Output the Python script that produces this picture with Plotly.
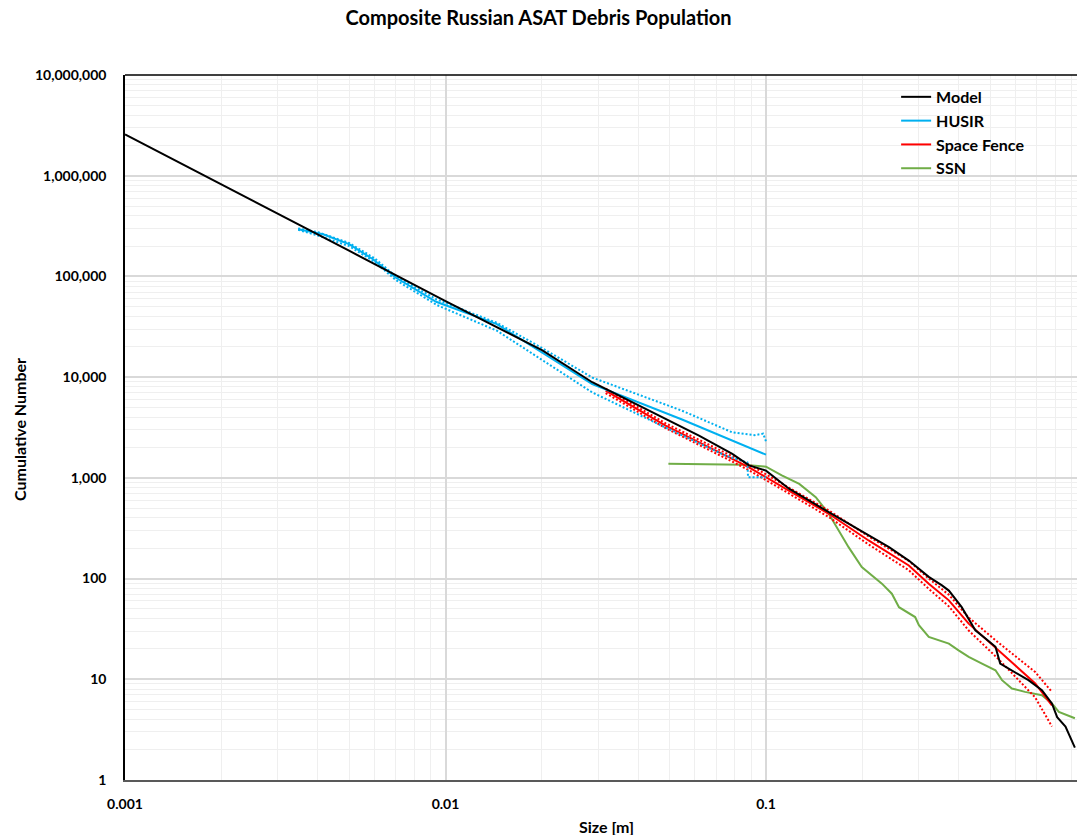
import numpy as np
import plotly.graph_objects as go

# ---- Model (cumulative number vs size) ----
model_size = [0.001, 0.002, 0.0035, 0.005, 0.01, 0.02, 0.0287, 0.04, 0.0618, 0.0785,
              0.0885, 0.1, 0.118, 0.157, 0.209, 0.242, 0.279, 0.322, 0.354, 0.372,
              0.408, 0.45, 0.484, 0.52, 0.538, 0.585, 0.659, 0.726, 0.78, 0.81, 0.86, 0.92]
model_count = [2.57e6, 8.2e5, 3.3e5, 1.8e5, 5.7e4, 1.85e4, 8900, 5200, 2620, 1730,
               1330, 1180, 780, 456, 268, 205, 151, 104, 85.6, 76,
               52, 30.7, 25.4, 21, 14.3, 12.3, 9.8, 7.8, 5.75, 4.2, 3.4, 2.1]

# ---- HUSIR: estimate with upper / lower bounds ----
husir_size = [0.00347, 0.00415, 0.00502, 0.00594, 0.00701, 0.00935, 0.01446, 0.0287,
              0.0547, 0.1]
husir_count = [2.94e5, 2.62e5, 2.08e5, 1.48e5, 9.7e4, 5.6e4, 3.36e4, 8520, 3800, 1700]

husir_hi_size = [0.00347, 0.004, 0.005, 0.006, 0.007, 0.0094, 0.0145, 0.02, 0.0287,
                 0.04, 0.0547, 0.0785, 0.092, 0.098, 0.1]
husir_hi_count = [3.0e5, 2.75e5, 2.15e5, 1.52e5, 1.0e5, 5.9e4, 3.45e4, 1.95e4, 9900,
                  6700, 4645, 2830, 2650, 2750, 2300]

husir_lo_size = [0.00347, 0.004, 0.005, 0.006, 0.007, 0.0094, 0.0145, 0.0287, 0.0485,
                 0.0748, 0.0875, 0.0879, 0.1]
husir_lo_count = [2.9e5, 2.55e5, 2.0e5, 1.4e5, 9.2e4, 5.2e4, 2.88e4, 7050, 3170,
                  1663, 1420, 1014, 1014]

# ---- Space Fence: estimate with upper / lower bounds ----
sf_size = [0.0316, 0.0486, 0.0785, 0.0885, 0.1178, 0.157, 0.209, 0.279, 0.322, 0.372,
           0.429, 0.532, 0.692, 0.78]
sf_count = [7330, 3300, 1542, 1274, 748, 440, 239, 135, 89, 60.8,
            35.7, 19.4, 9.1, 5.5]
sf_hi_count = [7700, 3480, 1640, 1360, 800, 475, 262, 150, 100, 69,
               41, 23, 11.8, 7.5]
sf_lo_count = [6950, 3120, 1450, 1190, 700, 408, 218, 121, 79, 53,
               30.5, 15.8, 6.6, 3.4]

# ---- SSN catalog ----
ssn_size = [0.0496, 0.07, 0.085, 0.1, 0.112, 0.127, 0.143, 0.157, 0.169, 0.181,
            0.199, 0.23, 0.247, 0.26, 0.292, 0.3, 0.322, 0.347, 0.372, 0.399,
            0.429, 0.472, 0.52, 0.545, 0.585, 0.643, 0.726, 0.78, 0.82, 0.92]
ssn_count = [1380, 1375, 1350, 1290, 1060, 872, 643, 440, 300, 205,
             130, 89, 70.8, 52, 41.5, 34.4, 26.3, 24.4, 22.6, 19.4,
             16.7, 14.3, 12.3, 9.8, 8.1, 7.5, 6.95, 5.75, 4.75, 4.1]

x_tick_vals = [0.001, 0.01, 0.1]
x_tick_text = ["0.001", "0.01", "0.1"]
y_tick_vals = [1, 10, 100, 1000, 10000, 100000, 1000000, 10000000]
y_tick_text = ["1", "10", "100", "1,000", "10,000", "100,000", "1,000,000", "10,000,000"]

BLACK = "#000000"
BLUE = "#00B0F0"
RED = "#FF0000"
GREEN = "#70AD47"
FONT = "Lato"
DOT = "2px,2px"

fig = go.Figure()

# SSN
fig.add_trace(go.Scatter(x=ssn_size, y=ssn_count, mode="lines", name="<b>SSN</b>",
                         line=dict(color=GREEN, width=2), legendrank=4))

# Space Fence bounds and estimate
fig.add_trace(go.Scatter(x=sf_size, y=sf_hi_count, mode="lines", showlegend=False,
                         line=dict(color=RED, width=2, dash=DOT)))
fig.add_trace(go.Scatter(x=sf_size, y=sf_lo_count, mode="lines", showlegend=False,
                         line=dict(color=RED, width=2, dash=DOT)))
fig.add_trace(go.Scatter(x=sf_size, y=sf_count, mode="lines", name="<b>Space Fence</b>",
                         line=dict(color=RED, width=2), legendrank=3))

# HUSIR bounds and estimate
fig.add_trace(go.Scatter(x=husir_hi_size, y=husir_hi_count, mode="lines", showlegend=False,
                         line=dict(color=BLUE, width=2, dash=DOT)))
fig.add_trace(go.Scatter(x=husir_lo_size, y=husir_lo_count, mode="lines", showlegend=False,
                         line=dict(color=BLUE, width=2, dash=DOT)))
fig.add_trace(go.Scatter(x=husir_size, y=husir_count, mode="lines", name="<b>HUSIR</b>",
                         line=dict(color=BLUE, width=2), legendrank=2))

# Model
fig.add_trace(go.Scatter(x=model_size, y=model_count, mode="lines", name="<b>Model</b>",
                         line=dict(color=BLACK, width=2), legendrank=1))

# minor gridlines at 2..9 of every decade
x_minor = [m * 10.0 ** e for e in range(-3, 0) for m in range(2, 10)]
y_minor = [m * 10.0 ** e for e in range(0, 7) for m in range(2, 10)]

fig.update_xaxes(
    type="log",
    range=[-3, -0.0296],
    tickvals=x_tick_vals,
    ticktext=x_tick_text,
    ticks="",
    ticklabelstandoff=10,
    tickfont=dict(family=FONT, size=14, color="#000000", weight="bold"),
    showgrid=True,
    gridcolor="#D9D9D9",
    gridwidth=1.5,
    minor=dict(tickvals=x_minor, showgrid=True, gridcolor="#EFEFEF", gridwidth=1, ticks=""),
    showline=True,
    linecolor="#595959",
    linewidth=2,
    zeroline=False,
)
fig.update_yaxes(
    type="log",
    range=[0, 7],
    tickvals=y_tick_vals,
    ticktext=y_tick_text,
    ticks="",
    ticklabelstandoff=14,
    tickfont=dict(family=FONT, size=14, color="#000000", weight="bold"),
    showgrid=True,
    gridcolor="#D9D9D9",
    gridwidth=1.5,
    minor=dict(tickvals=y_minor, showgrid=True, gridcolor="#EFEFEF", gridwidth=1, ticks=""),
    showline=True,
    linecolor="#000000",
    linewidth=1.5,
    zeroline=False,
)

fig.update_layout(
    width=1077,
    height=835,
    paper_bgcolor="white",
    plot_bgcolor="white",
    margin=dict(l=125, r=0, t=75, b=55),
    font=dict(family=FONT, color="#000000"),
    title=dict(text="<b>Composite Russian ASAT Debris Population</b>",
               x=0.5, xref="container", xanchor="center",
               y=1 - 18 / 835, yanchor="middle",
               font=dict(family=FONT, size=20, color="#000000")),
    showlegend=True,
    legend=dict(x=0.81, y=0.993, xanchor="left", yanchor="top",
                bgcolor="rgba(0,0,0,0)", borderwidth=0,
                font=dict(family=FONT, size=16, color="#000000"),
                tracegroupgap=0),
    shapes=[dict(type="line", xref="paper", yref="paper", x0=0, x1=1, y0=1, y1=1,
                 line=dict(color="#000000", width=1.5))],
    annotations=[
        dict(text="<b>Size [m]</b>", xref="paper", yref="paper",
             x=(606 - 125) / 952, y=-(826 - 780) / 705, xanchor="center", yanchor="middle",
             showarrow=False, font=dict(family=FONT, size=16, color="#000000")),
        dict(text="<b>Cumulative Number</b>", xref="paper", yref="paper",
             x=-(125 - 20) / 952, y=(780 - 430) / 705, xanchor="center", yanchor="middle",
             textangle=-90, showarrow=False,
             font=dict(family=FONT, size=16, color="#000000")),
    ],
)

fig.write_html("out.html")
